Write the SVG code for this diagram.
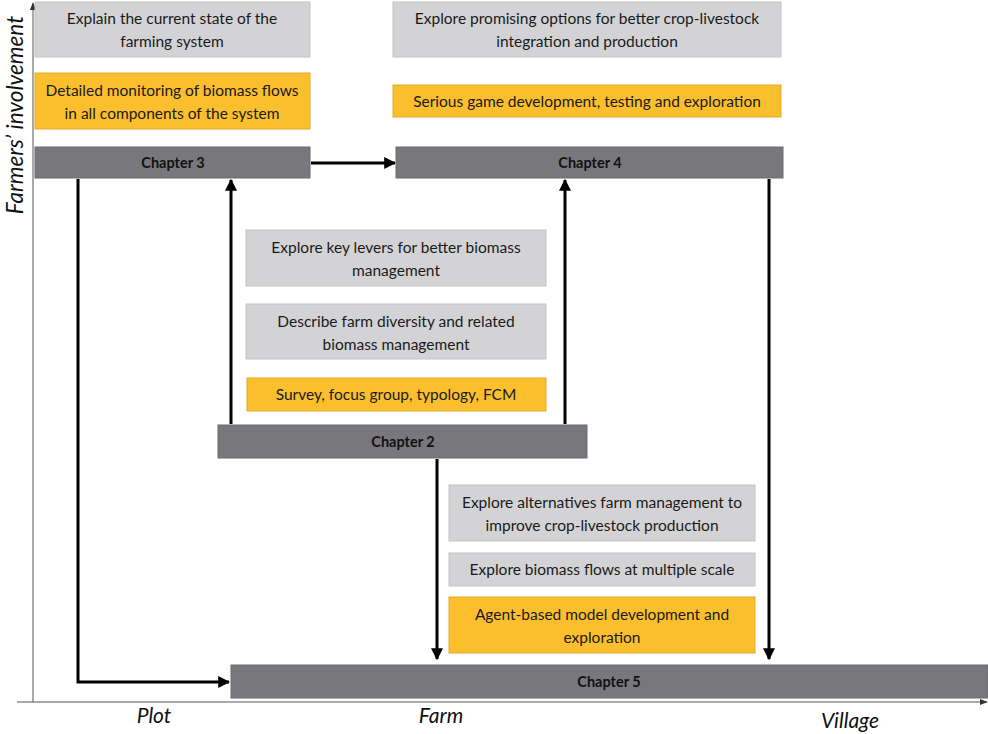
<svg xmlns="http://www.w3.org/2000/svg" width="988" height="734" viewBox="0 0 988 734">
  <style>
    .light { fill: #D3D3D5; stroke: #C4C4C6; stroke-width: 1; }
    .orange { fill: #FBBF2E; stroke: #E2AC2A; stroke-width: 1; }
    .chap { fill: #78787C; stroke: #6C6C70; stroke-width: 1; }
    .t { font-family: Lato, "Liberation Sans", sans-serif; font-size: 15.5px; fill: #1A1A1A; text-anchor: middle; }
    .ct { font-family: Lato, "Liberation Sans", sans-serif; font-size: 14.5px; font-weight: bold; fill: #111111; text-anchor: middle; }
    .ax { font-family: Lato, "Liberation Sans", sans-serif; font-size: 21px; font-style: italic; fill: #111111; text-anchor: middle; }
    .conn { stroke: #000000; stroke-width: 3; fill: none; }
    .axis { stroke: #555555; stroke-width: 1; fill: none; }
  </style>
  <defs>
    <marker id="arrow" viewBox="0 0 10 10" refX="9" refY="5" markerWidth="4" markerHeight="4" orient="auto" markerUnits="strokeWidth">
      <path d="M0,0 L10,5 L0,10 z" fill="#000000"/>
    </marker>
    <marker id="axisArrow" viewBox="0 0 10 10" refX="9" refY="5" markerWidth="8" markerHeight="8" orient="auto" markerUnits="strokeWidth">
      <path d="M0,1 L10,5 L0,9 z" fill="#333333"/>
    </marker>
  </defs>

  <rect width="988" height="734" fill="#FFFFFF"/>

  <!-- axes -->
  <g id="axes">
    <line class="axis" x1="33" y1="702" x2="33" y2="3" marker-end="url(#axisArrow)"/>
    <line class="axis" x1="17" y1="702" x2="987" y2="702" marker-end="url(#axisArrow)"/>
    <text class="ax" style="font-size:22.5px" transform="translate(23,115) rotate(-90)">Farmers’ involvement</text>
    <text class="ax" x="154" y="723">Plot</text>
    <text class="ax" x="441" y="723">Farm</text>
    <text class="ax" x="850" y="728">Village</text>
  </g>

  <!-- connectors -->
  <g id="connectors">
    <line class="conn" x1="311" y1="163" x2="395" y2="163" marker-end="url(#arrow)"/>
    <line class="conn" x1="231" y1="424" x2="231" y2="180" marker-end="url(#arrow)"/>
    <line class="conn" x1="565" y1="424" x2="565" y2="180" marker-end="url(#arrow)"/>
    <polyline class="conn" points="78,179 78,682 229,682" marker-end="url(#arrow)"/>
    <line class="conn" x1="769" y1="179" x2="769" y2="659" marker-end="url(#arrow)"/>
    <line class="conn" x1="437" y1="459" x2="437" y2="659" marker-end="url(#arrow)"/>
  </g>

  <!-- chapter 3 column -->
  <g id="explain-current">
    <rect class="light" x="35" y="2" width="275" height="55"/>
    <text class="t" x="172" y="24">Explain the current state of the</text>
    <text class="t" x="172" y="47">farming system</text>
  </g>
  <g id="monitoring">
    <rect class="orange" x="35" y="73" width="275" height="56"/>
    <text class="t" x="172" y="96">Detailed monitoring of biomass flows</text>
    <text class="t" x="172" y="119">in all components of the system</text>
  </g>
  <g id="chapter3">
    <rect class="chap" x="35" y="147" width="275" height="31"/>
    <text class="ct" x="173" y="168">Chapter 3</text>
  </g>

  <!-- chapter 4 column -->
  <g id="explore-options">
    <rect class="light" x="393" y="2" width="388" height="55"/>
    <text class="t" x="587" y="24">Explore promising options for better crop-livestock</text>
    <text class="t" x="587" y="47">integration and production</text>
  </g>
  <g id="serious-game">
    <rect class="orange" x="393" y="85" width="388" height="32"/>
    <text class="t" x="587" y="107">Serious game development, testing and exploration</text>
  </g>
  <g id="chapter4">
    <rect class="chap" x="396" y="147" width="387" height="31"/>
    <text class="ct" x="590" y="168">Chapter 4</text>
  </g>

  <!-- chapter 2 column -->
  <g id="key-levers">
    <rect class="light" x="246" y="230" width="300" height="56"/>
    <text class="t" x="396" y="253">Explore key levers for better biomass</text>
    <text class="t" x="396" y="276">management</text>
  </g>
  <g id="farm-diversity">
    <rect class="light" x="246" y="304" width="300" height="55"/>
    <text class="t" x="396" y="327">Describe farm diversity and related</text>
    <text class="t" x="396" y="350">biomass management</text>
  </g>
  <g id="survey">
    <rect class="orange" x="247" y="378" width="299" height="33"/>
    <text class="t" x="396" y="400">Survey, focus group, typology, FCM</text>
  </g>
  <g id="chapter2">
    <rect class="chap" x="218" y="425" width="369" height="33"/>
    <text class="ct" x="403" y="447">Chapter 2</text>
  </g>

  <!-- chapter 5 column -->
  <g id="alternatives">
    <rect class="light" x="449" y="485" width="306" height="56"/>
    <text class="t" x="602" y="508">Explore alternatives farm management to</text>
    <text class="t" x="602" y="531">improve crop-livestock production</text>
  </g>
  <g id="multiple-scale">
    <rect class="light" x="449" y="553" width="306" height="33"/>
    <text class="t" x="602" y="575">Explore biomass flows at multiple scale</text>
  </g>
  <g id="agent-based">
    <rect class="orange" x="449" y="597" width="306" height="56"/>
    <text class="t" x="602" y="620">Agent-based model development and</text>
    <text class="t" x="602" y="643">exploration</text>
  </g>
  <g id="chapter5">
    <rect class="chap" x="231" y="665" width="757" height="33"/>
    <text class="ct" x="609" y="687">Chapter 5</text>
  </g>
</svg>
